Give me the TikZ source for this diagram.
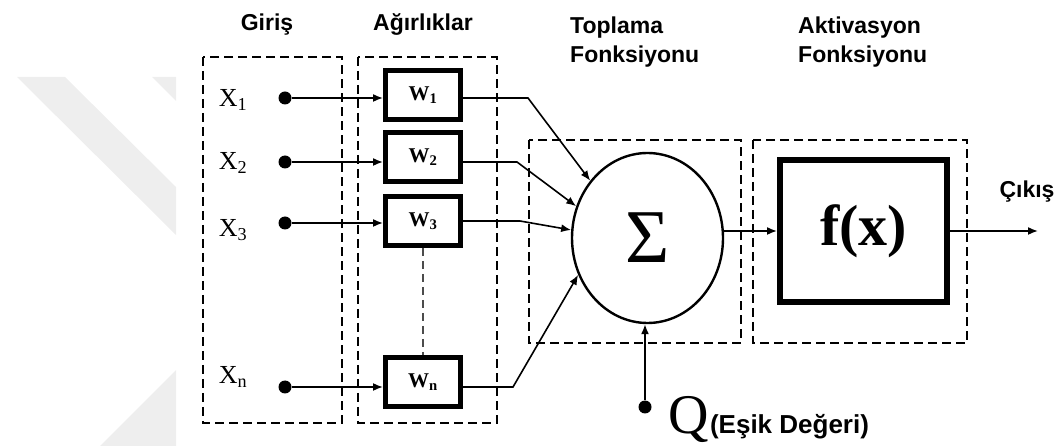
\documentclass[tikz,border=0pt]{standalone}
\usepackage{fontspec}
\setmainfont{Liberation Serif}
\newfontfamily\headsans{Liberation Sans}
\usetikzlibrary{shapes.geometric,arrows.meta}

\newcommand{\px}[1]{\fontsize{#1}{#1}\selectfont}

\begin{document}
\begin{tikzpicture}[x=1pt,y=-1pt,>={Latex[length=10pt,width=8pt]},
  grp/.style={line width=2.2pt,dash pattern=on 9pt off 5pt},
  wbox/.style={draw,line width=5pt,minimum width=75pt,minimum height=49pt,inner sep=0pt,font=\px{21}\bfseries},
  dot/.style={circle,fill,inner sep=0pt,minimum size=13pt},
  wire/.style={line width=1.6pt},
  xlab/.style={font=\px{26}},
  head/.style={font=\headsans\bfseries\fontsize{23}{29}\selectfont,align=left,inner sep=0pt}]
\useasboundingbox (0,0) rectangle (1061,446);
\fill[gray!13] (17,77) -- (65,77) -- (176,187) -- (176,235) -- cycle;
\fill[gray!13] (152,77) -- (176,77) -- (176,101) -- cycle;
\fill[gray!13] (176,370) -- (176,446) -- (100,446) -- cycle;

\draw[grp] (203,57) rectangle (342,423);
\draw[grp] (358,57) rectangle (497,423);
\draw[grp] (529,140) rectangle (741,343);
\draw[grp] (753,140) rectangle (967,343);

\node[head,anchor=base] (giris) at (267,31) {Giriş};
\node[head,anchor=base] (agirlik) at (423,31) {Ağırlıklar};
\node[head,anchor=base west] (topl) at (570,63) {Toplama\\Fonksiyonu};
\node[head,anchor=base west] (aktiv) at (798,63) {Aktivasyon\\Fonksiyonu};

\node[xlab] (x1) at (233,100) {X\textsubscript{1}};
\node[xlab] (x2) at (233,163) {X\textsubscript{2}};
\node[xlab] (x3) at (233,230) {X\textsubscript{3}};
\node[xlab] (xn) at (233,377) {X\textsubscript{n}};

\node[dot] (d1) at (285,98) {};
\node[dot] (d2) at (285,162) {};
\node[dot] (d3) at (285,223) {};
\node[dot] (dn) at (285,387) {};

\node[wbox] (w1) at (423,95) {W\textsubscript{1}};
\node[wbox] (w2) at (423,157) {W\textsubscript{2}};
\node[wbox] (w3) at (423,221) {W\textsubscript{3}};
\node[wbox] (wn) at (423,382) {W\textsubscript{n}};
\draw[line width=2pt,dash pattern=on 8pt off 5pt,black!70] (w3.south) -- (wn.north);

\foreach \i in {1,2,3,n}
  \draw[wire,->] (d\i) -- (d\i -| w\i.west);

\node[draw,ellipse,line width=2.4pt,minimum width=151pt,minimum height=170pt,inner sep=0pt,font=\px{76}] (sum) at (647.5,238) {Σ};

\draw[wire,->] (d1 -| w1.east) -- ++(65,0) -- (sum.135);
\draw[wire,->] (d2 -| w2.east) -- ++(54,0) -- (sum.156);
\draw[wire,->] (w3.east) -- ++(57,0) -- (sum.174);
\draw[wire,->] (dn -| wn.east) -- ++(50,0) -- (sum.208);

\node[dot] (qd) at (645,407) {};
\draw[wire,->] (qd) -- (qd |- sum.south);
\node[font=\px{56},anchor=base west,inner sep=0pt] (q) at (668,433) {Q};
\node[font=\headsans\bfseries\px{26},anchor=base west,inner sep=0pt,xshift=1pt] (esik) at (q.base east) {(Eşik Değeri)};

\node[draw,line width=6pt,minimum width=167pt,minimum height=142pt,inner sep=0pt,font=\bfseries\px{58}] (fx) at (863.5,231) {f(x)};
\draw[wire,->] (sum.east |- fx.west) -- (fx.west);

\coordinate (out) at (1038,231);
\draw[wire,->] (fx.east) -- (out);
\node[head,anchor=base] (cikis) at (1027,198) {Çıkış};
\end{tikzpicture}
\end{document}
